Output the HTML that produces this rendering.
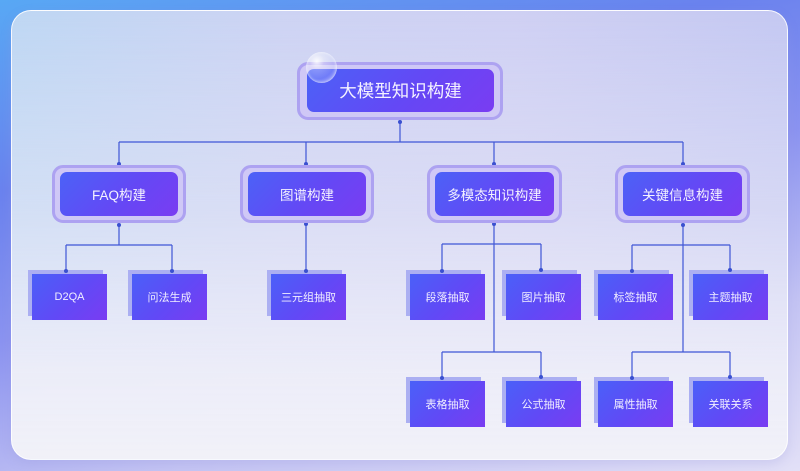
<!DOCTYPE html>
<html><head><meta charset="utf-8"><style>
html,body{margin:0;padding:0;}
body{width:800px;height:471px;position:relative;overflow:hidden;font-family:"Liberation Sans","Noto Sans CJK SC",sans-serif;
background:linear-gradient(165deg,#58a8f4 0%,#6a82ee 28%,#8b93f0 50%,#c3c3f3 75%,#e2e0f7 100%);}
.card{position:absolute;left:11px;top:10px;width:777px;height:450px;border-radius:20px;box-sizing:border-box;border:1px solid rgba(255,255,255,0.85);
background:linear-gradient(180deg,rgba(240,240,249,0) 0%,rgba(232,232,247,0.5) 45%,rgba(238,238,249,0.95) 80%,#f1f1f8 100%),linear-gradient(90deg,#bed7f3 0%,#cdd3f3 35%,#cfd0f3 65%,#c4c8f2 100%);
box-shadow:0 4px 10px rgba(150,150,220,0.25);}
.halo{position:absolute;box-sizing:border-box;border-radius:11px;background:#cfc8f6;border:3px solid #ada2f1;}
.box{position:absolute;border-radius:7px;background:linear-gradient(135deg,#4b62f7 0%,#6448f5 55%,#7a3cf2 100%);color:#f4f2ff;display:flex;align-items:center;justify-content:center;}
.leafb{position:absolute;width:75px;height:46px;background:#abaff2;}
.leaf{position:absolute;width:75px;height:46px;background:linear-gradient(135deg,#4a60f8 0%,#6149f6 55%,#7a3cf2 100%);color:#f1efff;font-size:11px;display:flex;align-items:center;justify-content:center;}
svg{position:absolute;left:0;top:0;}
.bub{position:absolute;left:306px;top:52px;width:31px;height:31px;border-radius:50%;
background:radial-gradient(circle at 35% 30%,rgba(255,255,255,0.9) 0%,rgba(255,255,255,0.35) 25%,rgba(210,220,255,0.25) 60%,rgba(255,255,255,0.6) 100%);box-shadow:inset 0 0 3px rgba(255,255,255,0.8);}
.dots{z-index:5;}
</style></head><body>
<div class="card"></div>

<svg width="800" height="471" viewBox="0 0 800 471">
<g stroke="#3f56d6" stroke-width="1.2" fill="none">
<path d="M400 122V142M119 142H683M119 142V164M306 142V164M494 142V164M683 142V164"/>
<path d="M119 225V245M66 245H172M66 245V270M172 245V270"/>
<path d="M306 224V270"/>
<path d="M494 224V352M442 244H541M442 244V270M541 244V270M442 352H541M442 352V377M541 352V377"/>
<path d="M683 225V352M632 245H730M632 245V270M730 245V270M632 352H730M632 352V377M730 352V377"/>
</g>
<g fill="#3a50d0">
<circle cx="400" cy="122" r="2"/>
<circle cx="119" cy="164" r="2"/><circle cx="306" cy="164" r="2"/><circle cx="494" cy="164" r="2"/><circle cx="683" cy="164" r="2"/>
<circle cx="119" cy="225" r="2"/><circle cx="306" cy="224" r="2"/><circle cx="494" cy="224" r="2"/><circle cx="683" cy="225" r="2"/>
</g>
</svg>

<!-- root -->
<div class="halo" style="left:297px;top:62px;width:206px;height:58px;"></div>
<div class="box" style="left:307px;top:69px;width:187px;height:43px;font-size:17.5px;">大模型知识构建</div>
<div class="bub"></div>

<!-- level 2 -->
<div class="halo" style="left:52px;top:165px;width:134px;height:58px;"></div>
<div class="box" style="left:60px;top:172px;width:118px;height:44px;font-size:13.5px;">FAQ构建</div>
<div class="halo" style="left:240px;top:165px;width:134px;height:58px;"></div>
<div class="box" style="left:248px;top:172px;width:118px;height:44px;font-size:13.5px;">图谱构建</div>
<div class="halo" style="left:427px;top:165px;width:135px;height:58px;"></div>
<div class="box" style="left:435px;top:172px;width:119px;height:44px;font-size:13.5px;">多模态知识构建</div>
<div class="halo" style="left:615px;top:165px;width:135px;height:58px;"></div>
<div class="box" style="left:623px;top:172px;width:119px;height:44px;font-size:13.5px;">关键信息构建</div>

<!-- leaves row 1 -->
<div class="leafb" style="left:28px;top:270px;"></div><div class="leaf" style="left:32px;top:274px;">D2QA</div>
<div class="leafb" style="left:128px;top:270px;"></div><div class="leaf" style="left:132px;top:274px;">问法生成</div>
<div class="leafb" style="left:267px;top:270px;"></div><div class="leaf" style="left:271px;top:274px;">三元组抽取</div>
<div class="leafb" style="left:406px;top:270px;"></div><div class="leaf" style="left:410px;top:274px;">段落抽取</div>
<div class="leafb" style="left:502px;top:270px;"></div><div class="leaf" style="left:506px;top:274px;">图片抽取</div>
<div class="leafb" style="left:594px;top:270px;"></div><div class="leaf" style="left:598px;top:274px;">标签抽取</div>
<div class="leafb" style="left:689px;top:270px;"></div><div class="leaf" style="left:693px;top:274px;">主题抽取</div>

<!-- leaves row 2 -->
<div class="leafb" style="left:406px;top:377px;"></div><div class="leaf" style="left:410px;top:381px;">表格抽取</div>
<div class="leafb" style="left:502px;top:377px;"></div><div class="leaf" style="left:506px;top:381px;">公式抽取</div>
<div class="leafb" style="left:594px;top:377px;"></div><div class="leaf" style="left:598px;top:381px;">属性抽取</div>
<div class="leafb" style="left:689px;top:377px;"></div><div class="leaf" style="left:693px;top:381px;">关联关系</div>

<svg class="dots" width="800" height="471" viewBox="0 0 800 471">
<g fill="#3a50d0">
<circle cx="66" cy="271" r="2"/><circle cx="172" cy="271" r="2"/><circle cx="306" cy="271" r="2"/>
<circle cx="442" cy="271" r="2"/><circle cx="541" cy="270" r="2"/><circle cx="632" cy="271" r="2"/><circle cx="730" cy="270" r="2"/>
<circle cx="442" cy="378" r="2"/><circle cx="541" cy="377" r="2"/><circle cx="632" cy="378" r="2"/><circle cx="730" cy="377" r="2"/>
</g>
</svg>
</body></html>
